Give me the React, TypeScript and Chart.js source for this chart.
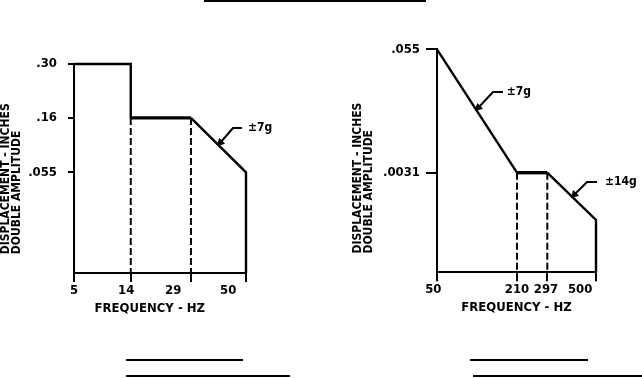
import React, { useEffect, useRef } from "react";
import { Chart, registerables } from "chart.js";

Chart.register(...registerables);

const FAMILY = "'DejaVu Sans Condensed', 'DejaVu Sans', 'Liberation Sans', sans-serif";

// ---------- LEFT CHART (schematic drawing units) ----------
const leftYLabels = [".30", ".16", ".055"];
const leftYLevels = [3.8, 2.82, 1.83];
const leftXLabels = ["5", "14", "29", "50"];
const leftXLabelPos = [0, 0.91, 1.73, 2.69];
const leftXBreaks = [0, 0.99, 2.04, 3];
const leftCurveX = [0, 0.99, 0.99, 2.04, 3, 3];
const leftCurveY = [3.8, 3.8, 2.82, 2.82, 1.83, 0];
const leftThickSegment = 2;
const leftDashX = [0.99, 2.04];
const leftDashTop = [2.82, 2.82];
const leftNoteText = ["±7g"];
const leftNoteArrowX = [2.555];
const leftNoteArrowY = [2.373];
const leftNoteElbowX = [2.773];
const leftNoteElbowY = [2.636];
const leftNoteEndX = [2.93];
const leftNoteTextX = [3.035];

// ---------- RIGHT CHART ----------
const rightYLabels = [".055", ".0031"];
const rightYLevels = [4.2, 1.876];
const rightXLabels = ["50", "210", "297", "500"];
const rightXLabelPos = [-0.07, 1.509, 2.056, 2.7];
const rightXBreaks = [0, 1.509, 2.081, 3];
const rightCurveX = [0, 1.509, 2.081, 3, 3];
const rightCurveY = [4.2, 1.876, 1.876, 0.985, 0];
const rightThickSegment = 1;
const rightDashX = [1.509, 2.081];
const rightDashTop = [1.876, 1.876];
const rightNoteText = ["±7g", "±14g"];
const rightNoteArrowX = [0.783, 2.594];
const rightNoteArrowY = [3.104, 1.465];
const rightNoteElbowX = [1.057, 2.83];
const rightNoteElbowY = [3.395, 1.7];
const rightNoteEndX = [1.245, 3.019];
const rightNoteTextX = [1.315, 3.17];

const Y_TITLE = ["     DISPLACEMENT - INCHES", "     DOUBLE AMPLITUDE"];

type Spec = {
  xMax: number;
  yMax: number;
  yLabels: string[];
  yLevels: number[];
  xLabels: string[];
  xLabelPos: number[];
  xBreaks: number[];
  curveX: number[];
  curveY: number[];
  thickSegment: number;
  dashX: number[];
  dashTop: number[];
  noteText: string[];
  noteArrowX: number[];
  noteArrowY: number[];
  noteElbowX: number[];
  noteElbowY: number[];
  noteEndX: number[];
  noteTextX: number[];
  padding: { left: number; right: number; top: number; bottom: number };
  yWidth: number;
  yTickLen: number;
  yTickPad: number;
  xTitle: string;
};

function makeConfig(s: Spec): any {
  const datasets: any[] = [];
  datasets.push({
    data: s.curveX.map((x, i) => ({ x, y: s.curveY[i] })),
    borderColor: "#000",
    borderWidth: 2.4,
    pointRadius: 0,
    tension: 0,
    clip: false,
    borderJoinStyle: "miter",
    segment: {
      borderWidth: (ctx: any) => (ctx.p0DataIndex === s.thickSegment ? 3.4 : 2.4),
    },
  });
  s.dashX.forEach((x, i) => {
    datasets.push({
      data: [
        { x, y: s.dashTop[i] },
        { x, y: 0 },
      ],
      borderColor: "#000",
      borderWidth: 2,
      borderDash: [7, 3],
      pointRadius: 0,
      clip: false,
    });
  });
  s.noteText.forEach((_, i) => {
    datasets.push({
      data: [
        { x: s.noteArrowX[i], y: s.noteArrowY[i] },
        { x: s.noteElbowX[i], y: s.noteElbowY[i] },
        { x: s.noteEndX[i], y: s.noteElbowY[i] },
      ],
      borderColor: "#000",
      backgroundColor: "#000",
      borderWidth: 2,
      pointStyle: "triangle",
      pointRadius: [4, 0, 0],
      pointRotation: [225, 0, 0],
      pointBorderWidth: 1,
      clip: false,
    });
  });

  const notesPlugin = {
    id: "notes",
    afterDatasetsDraw(chart: any) {
      const { ctx } = chart;
      const xs = chart.scales.x;
      const ys = chart.scales.y;
      ctx.save();
      ctx.font = `bold 12px ${FAMILY}`;
      ctx.fillStyle = "#000";
      ctx.textAlign = "left";
      ctx.textBaseline = "middle";
      s.noteText.forEach((t, i) => {
        ctx.fillText(t, xs.getPixelForValue(s.noteTextX[i]), ys.getPixelForValue(s.noteElbowY[i]));
      });
      ctx.restore();
    },
  };

  return {
    type: "line",
    data: { datasets },
    plugins: [notesPlugin],
    options: {
      responsive: false,
      animation: false,
      layout: { padding: s.padding },
      plugins: { legend: { display: false }, tooltip: { enabled: false } },
      scales: {
        x: {
          type: "linear",
          position: "bottom",
          weight: 0,
          min: 0,
          max: s.xMax,
          afterBuildTicks: (sc: any) => {
            sc.ticks = s.xBreaks.map((v) => ({ value: v }));
          },
          ticks: { display: false },
          grid: { drawOnChartArea: false, drawTicks: true, tickLength: 9, color: "#000", lineWidth: 2 },
          border: { display: true, color: "#000", width: 2 },
        },
        xl: {
          type: "linear",
          axis: "x",
          position: "bottom",
          weight: 1,
          min: 0,
          max: s.xMax,
          afterBuildTicks: (sc: any) => {
            sc.ticks = s.xLabelPos.map((v) => ({ value: v }));
          },
          ticks: {
            autoSkip: false,
            maxRotation: 0,
            padding: 1,
            color: "#000",
            font: { family: FAMILY, size: 13, weight: "bold" },
            callback: (_v: any, i: number) => s.xLabels[i],
          },
          grid: { display: false, drawTicks: false },
          border: { display: false },
          title: {
            display: true,
            text: s.xTitle,
            color: "#000",
            font: { family: FAMILY, size: 13, weight: "bold" },
            padding: { top: 0, bottom: 6 },
          },
          afterFit: (sc: any) => {
            sc.height = 40;
          },
        },
        y: {
          type: "linear",
          position: "left",
          min: 0,
          max: s.yMax,
          afterBuildTicks: (sc: any) => {
            sc.ticks = s.yLevels.map((v) => ({ value: v }));
          },
          ticks: {
            autoSkip: false,
            padding: s.yTickPad,
            color: "#000",
            font: { family: FAMILY, size: 13, weight: "bold" },
            callback: (_v: any, i: number) => s.yLabels[i],
          },
          grid: { drawOnChartArea: false, drawTicks: true, tickLength: s.yTickLen, color: "#000", lineWidth: 2 },
          border: { display: true, color: "#000", width: 2 },
          title: {
            display: true,
            align: "start",
            text: Y_TITLE,
            color: "#000",
            font: { family: FAMILY, size: 12, weight: "bold", lineHeight: 0.92 },
            padding: 0,
          },
          afterFit: (sc: any) => {
            sc.width = s.yWidth;
          },
        },
      },
    },
  };
}

const leftSpec: Spec = {
  xMax: 3,
  yMax: 3.8,
  yLabels: leftYLabels,
  yLevels: leftYLevels,
  xLabels: leftXLabels,
  xLabelPos: leftXLabelPos,
  xBreaks: leftXBreaks,
  curveX: leftCurveX,
  curveY: leftCurveY,
  thickSegment: leftThickSegment,
  dashX: leftDashX,
  dashTop: leftDashTop,
  noteText: leftNoteText,
  noteArrowX: leftNoteArrowX,
  noteArrowY: leftNoteArrowY,
  noteElbowX: leftNoteElbowX,
  noteElbowY: leftNoteElbowY,
  noteEndX: leftNoteEndX,
  noteTextX: leftNoteTextX,
  padding: { left: 0, right: 75, top: 64, bottom: 56 },
  yWidth: 74,
  yTickLen: 6,
  yTickPad: 11,
  xTitle: "FREQUENCY - HZ     ",
};

const rightSpec: Spec = {
  xMax: 3,
  yMax: 4.2,
  yLabels: rightYLabels,
  yLevels: rightYLevels,
  xLabels: rightXLabels,
  xLabelPos: rightXLabelPos,
  xBreaks: rightXBreaks,
  curveX: rightCurveX,
  curveY: rightCurveY,
  thickSegment: rightThickSegment,
  dashX: rightDashX,
  dashTop: rightDashTop,
  noteText: rightNoteText,
  noteArrowX: rightNoteArrowX,
  noteArrowY: rightNoteArrowY,
  noteElbowX: rightNoteElbowX,
  noteElbowY: rightNoteElbowY,
  noteEndX: rightNoteEndX,
  noteTextX: rightNoteTextX,
  padding: { left: 31.5, right: 46, top: 49.3, bottom: 56.7 },
  yWidth: 84.5,
  yTickLen: 11,
  yTickPad: 6,
  xTitle: "FREQUENCY - HZ",
};

function ChartCanvas({ spec, left }: { spec: Spec; left: number }) {
  const ref = useRef<HTMLCanvasElement | null>(null);
  useEffect(() => {
    if (!ref.current) return;
    const chart = new Chart(ref.current, makeConfig(spec));
    return () => chart.destroy();
  }, [spec]);
  return (
    <canvas
      ref={ref}
      width={321}
      height={378}
      style={{ position: "absolute", left, top: 0, width: 321, height: 378 }}
    />
  );
}

function Rule({ x, y, w }: { x: number; y: number; w: number }) {
  return <div style={{ position: "absolute", left: x, top: y, width: w, height: 2, background: "#000" }} />;
}

export default function App() {
  return (
    <div
      style={{
        position: "fixed",
        left: 0,
        top: 0,
        width: 642,
        height: 378,
        background: "#fff",
        overflow: "hidden",
      }}
    >
      <ChartCanvas spec={leftSpec} left={0} />
      <ChartCanvas spec={rightSpec} left={321} />
      <Rule x={204} y={0} w={222} />
      <Rule x={126} y={359} w={117} />
      <Rule x={126} y={375} w={164} />
      <Rule x={470} y={359} w={118} />
      <Rule x={473} y={375} w={169} />
    </div>
  );
}
